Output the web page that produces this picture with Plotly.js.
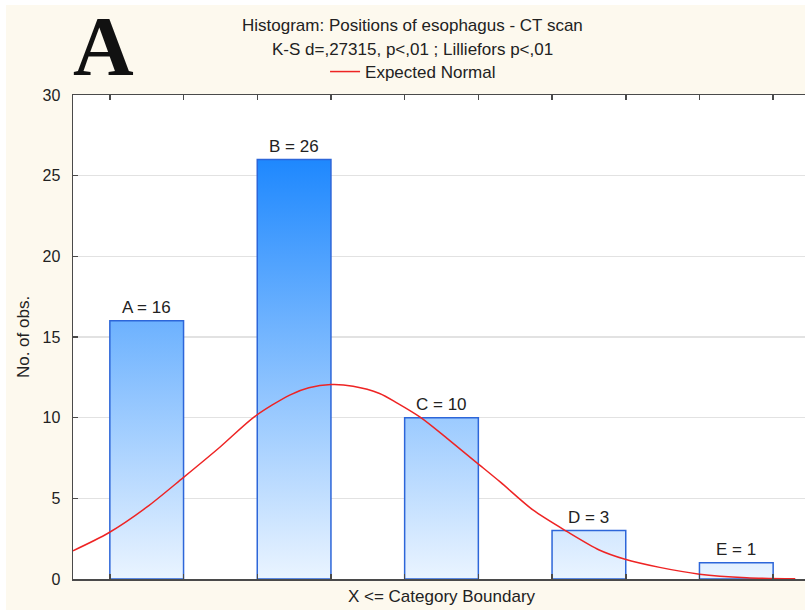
<!DOCTYPE html>
<html>
<head>
<meta charset="utf-8">
<script src="https://cdn.plot.ly/plotly-3.0.1.min.js"></script>
<style>
  html, body { margin: 0; padding: 0; background: #ffffff; overflow: hidden; }
  #chart { width: 810px; height: 610px; }
</style>
</head>
<body>
<div id="chart"></div>
<script>
// ---- data ----
const categories = ['A', 'B', 'C', 'D', 'E'];
const counts = [16, 26, 10, 3, 1];
const positions = [1, 2, 3, 4, 5];
const yTickVals = [0, 5, 10, 15, 20, 25, 30];
// Expected normal curve
const normalX = [0.50, 0.74, 1.00, 1.25, 1.50, 1.73, 1.97, 2.10, 2.25, 2.40, 2.58, 2.70, 2.86, 3.04, 3.24, 3.40, 3.62, 3.85, 4.07, 4.24, 4.48, 4.75, 5.07, 5.40];
const normalY = [1.75, 2.85, 4.45, 6.30, 8.20, 10.05, 11.40, 11.85, 12.05, 11.95, 11.50, 10.90, 10.00, 8.70, 7.20, 6.00, 4.28, 2.95, 1.80, 1.24, 0.72, 0.30, 0.08, 0.02];

const titleLine1 = 'Histogram: Positions of esophagus - CT scan';
const titleLine2 = 'K-S d=,27315, p&lt;,01 ; Lilliefors p&lt;,01';
const panelLetter = 'A';
const xTitle = 'X &lt;= Category Boundary';
const yTitle = 'No. of obs.';
const curveName = 'Expected Normal';

// ---- style ----
const half = 0.25;
const font = 'Liberation Sans, Arial, sans-serif';
const textColor = '#222222';
const axisColor = '#4a4a4a';
const maxCount = Math.max(...counts);

const traces = [];
positions.forEach((p, i) => {
  const v = counts[i];
  traces.push({
    type: 'scatter', mode: 'lines',
    x: [p - half, p - half, p + half, p + half, p - half],
    y: [0, v, v, 0, 0],
    fill: 'toself',
    fillgradient: {
      type: 'vertical',
      colorscale: [[0, '#EAF4FF'], [1, '#1E88FE']],
      start: 0, stop: maxCount
    },
    line: { color: '#2D66D9', width: 1.5 },
    showlegend: false, hoverinfo: 'skip'
  });
});

traces.push({
  type: 'scatter', mode: 'lines',
  x: normalX, y: normalY,
  line: { color: '#EE2424', width: 1.5, shape: 'spline', smoothing: 0.8 },
  name: curveName, showlegend: true
});

const barLabels = positions.map((p, i) => ({
  text: categories[i] + ' = ' + counts[i],
  x: p, y: counts[i], xref: 'x', yref: 'y',
  xanchor: 'center', yanchor: 'middle', yshift: 13, showarrow: false,
  font: { family: font, size: 17, color: textColor }
}));

const xTickVals = positions.flatMap(p => [p - half, p + half]);

const layout = {
  width: 810, height: 610,
  paper_bgcolor: '#FDF9EE',
  plot_bgcolor: '#FFFFFF',
  margin: { l: 73, r: 0, t: 95, b: 31, pad: 0 },
  font: { family: font, size: 17, color: textColor },
  showlegend: true,
  legend: {
    orientation: 'h', x: 0.342, y: 1.0475, xanchor: 'left', yanchor: 'middle',
    bgcolor: 'rgba(0,0,0,0)', font: { family: font, size: 17, color: textColor }
  },
  xaxis: {
    range: [0.5, 5.5], fixedrange: true,
    tickmode: 'array', tickvals: xTickVals,
    showticklabels: false, ticks: 'inside', ticklen: 5, tickwidth: 1.5, tickcolor: axisColor,
    showline: true, linecolor: axisColor, linewidth: 1.5, mirror: 'ticks',
    showgrid: false, zeroline: false,
    title: { text: xTitle, standoff: 10, font: { family: font, size: 17, color: textColor } }
  },
  yaxis: {
    range: [0, 30], fixedrange: true,
    tickmode: 'array', tickvals: yTickVals,
    ticks: 'inside', ticklen: 5, tickwidth: 1.5, tickcolor: axisColor,
    ticklabelstandoff: 8,
    tickfont: { family: font, size: 16, color: textColor },
    showline: true, linecolor: axisColor, linewidth: 1.5, mirror: 'ticks',
    showgrid: true, gridcolor: '#E2E2E2', gridwidth: 1.5, zeroline: false,
    title: { text: yTitle, standoff: 8, font: { family: font, size: 17, color: textColor } }
  },
  shapes: [
    // white border strips of the original image (top and left)
    { type: 'rect', xref: 'paper', yref: 'paper', layer: 'above',
      x0: -0.1, x1: 1.01, y0: 1.186, y1: 1.2, fillcolor: '#FFFFFF', line: { width: 0 } },
    { type: 'rect', xref: 'paper', yref: 'paper', layer: 'above',
      x0: -0.1, x1: -0.0909, y0: -0.07, y1: 1.2, fillcolor: '#FFFFFF', line: { width: 0 } }
  ],
  annotations: [
    { text: titleLine1, xref: 'paper', yref: 'paper', x: 0.4613, y: 1.1426,
      xanchor: 'center', yanchor: 'middle', showarrow: false,
      font: { family: font, size: 17, color: textColor } },
    { text: titleLine2, xref: 'paper', yref: 'paper', x: 0.4613, y: 1.095,
      xanchor: 'center', yanchor: 'middle', showarrow: false,
      font: { family: font, size: 17, color: textColor } },
    { text: '<b>' + panelLetter + '</b>', xref: 'paper', yref: 'paper', x: 0.042, y: 1.101,
      xanchor: 'center', yanchor: 'middle', showarrow: false,
      font: { family: 'Liberation Serif, Times New Roman, serif', size: 84, color: '#111111' } }
  ].concat(barLabels)
};

Plotly.newPlot('chart', traces, layout, { displayModeBar: false, staticPlot: true });
</script>
</body>
</html>
